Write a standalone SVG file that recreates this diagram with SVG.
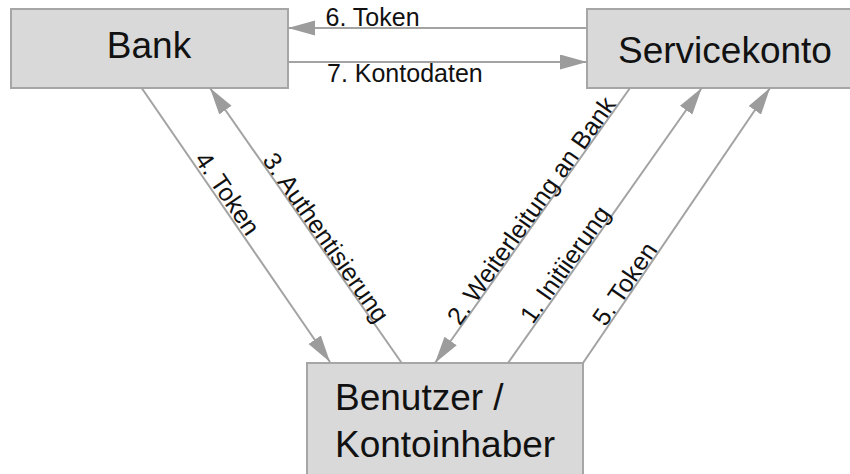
<svg xmlns="http://www.w3.org/2000/svg" width="850" height="474" viewBox="0 0 850 474">
<defs>
<style>
.box{fill:#d9d9d9;stroke:#a6a6a6;stroke-width:2}
.big{font-family:"Liberation Sans",Arial,sans-serif;font-size:37px;fill:#111}
.lbl{font-family:"Liberation Sans",Arial,sans-serif;font-size:25px;fill:#111}
.edge{stroke:#a3a3a3;stroke-width:2;fill:none;marker-end:url(#arr)}
</style>
<marker id="arr" markerUnits="userSpaceOnUse" markerWidth="28" markerHeight="16" refX="27" refY="7.5" orient="auto">
<path d="M0,0 L27,7.5 L0,15 z" fill="#9c9c9c"/>
</marker>
</defs>
<rect width="850" height="474" fill="#fff"/>
<g id="bank">
<rect class="box" x="11" y="9" width="277" height="79"/>
<text class="big" x="149" y="57.5" text-anchor="middle">Bank</text>
</g>
<g id="servicekonto">
<rect class="box" x="587" y="9" width="275" height="79"/>
<text class="big" x="725" y="63" text-anchor="middle">Servicekonto</text>
</g>
<g id="benutzer">
<rect class="box" x="307" y="363" width="276" height="120"/>
<text class="big" x="335" y="410">Benutzer /</text>
<text class="big" x="335" y="456.5">Kontoinhaber</text>
</g>
<g id="connectors">
<line class="edge" x1="587" y1="28" x2="288" y2="28"/>
<line class="edge" x1="288" y1="62" x2="587" y2="62"/>
<line class="edge" x1="141.7" y1="88" x2="330" y2="362"/>
<line class="edge" x1="401.7" y1="363" x2="210" y2="88"/>
<line class="edge" x1="630" y1="88" x2="435" y2="363"/>
<line class="edge" x1="508" y1="363" x2="701.7" y2="88"/>
<line class="edge" x1="583" y1="363" x2="770" y2="88"/>
<text class="lbl" x="325.5" y="25.5">6. Token</text>
<text class="lbl" x="327" y="82.3">7. Kontodaten</text>
<text class="lbl" text-anchor="middle" transform="translate(220.4,198.3) rotate(55.6)">4. Token</text>
<text class="lbl" text-anchor="middle" transform="translate(318.9,242.4) rotate(55.1)">3. Authentisierung</text>
<text class="lbl" text-anchor="middle" transform="translate(538.2,215.6) rotate(-54.7)">2. Weiterleitung an Bank</text>
<text class="lbl" text-anchor="middle" transform="translate(572.1,269.4) rotate(-54.8)">1. Initiierung</text>
<text class="lbl" text-anchor="middle" transform="translate(631.8,288.7) rotate(-55.8)">5. Token</text>
</g>
</svg>
